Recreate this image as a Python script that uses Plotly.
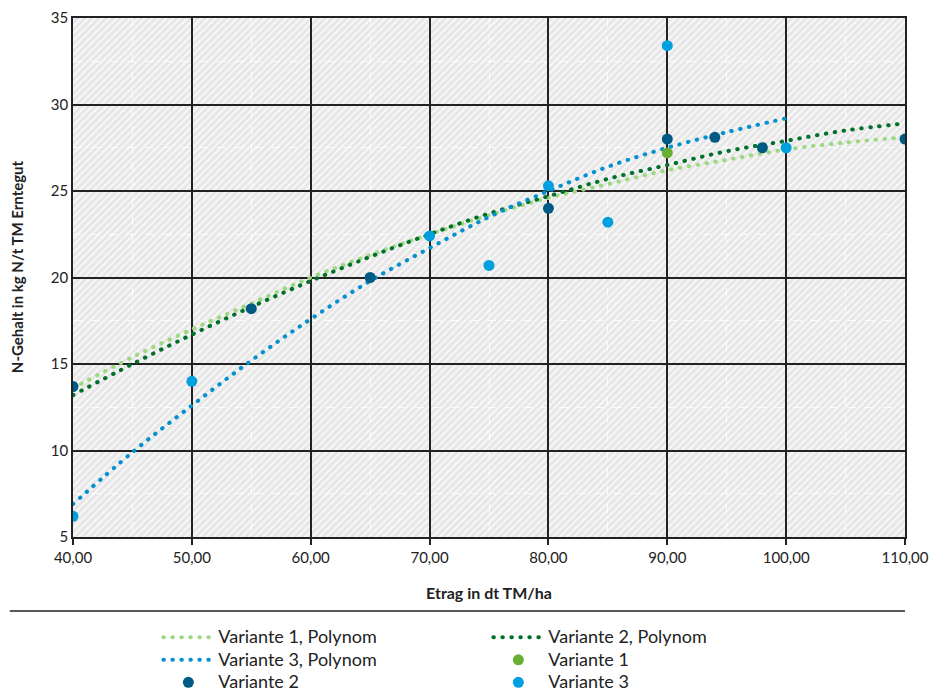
import base64
import plotly.graph_objects as go

# --- data
trend_x = [40, 45, 50, 55, 60, 65, 70, 75, 80, 85, 90, 95, 100, 105, 110]
trend_v1 = [13.6, 15.4, 17.0, 18.5, 20.0, 21.3, 22.5, 23.6, 24.6, 25.4, 26.2, 26.8, 27.4, 27.8, 28.1]
trend_v2 = [13.2, 15.0, 16.7, 18.3, 19.8, 21.2, 22.5, 23.7, 24.7, 25.7, 26.5, 27.3, 27.9, 28.5, 28.9]
trend_v3_x = [40, 45, 50, 55, 60, 65, 70, 75, 80, 85, 90, 95, 100]
trend_v3 = [6.9, 9.9, 12.6, 15.2, 17.6, 19.8, 21.7, 23.5, 25.0, 26.4, 27.5, 28.4, 29.2]

v1_x = [90]
v1_y = [27.2]
v2_x = [40, 55, 65, 80, 90, 94, 98, 110]
v2_y = [13.7, 18.2, 20.0, 24.0, 28.0, 28.1, 27.5, 28.0]
v3_x = [40, 50, 70, 75, 80, 85, 90, 100]
v3_y = [6.2, 14.0, 22.4, 20.7, 25.3, 23.2, 33.4, 27.5]

FONT = 'Lato, Carlito, Calibri, sans-serif'
DOTS = '0.5px,8.5px'  # with round caps -> dotted line of round dots

# --- hatched plot background as an svg image (sits below the grid)
hatch_svg = '''<svg xmlns="http://www.w3.org/2000/svg" width="832" height="519">
<defs><pattern id="h" width="5" height="5" patternUnits="userSpaceOnUse" patternTransform="rotate(45)">
<rect width="5" height="5" fill="#e6e6e6"/><rect width="2.2" height="5" fill="#f7f7f7"/></pattern></defs>
<rect width="832" height="519" fill="url(#h)"/></svg>'''
hatch_uri = 'data:image/svg+xml;base64,' + base64.b64encode(hatch_svg.encode()).decode()

fig = go.Figure()

fig.add_trace(go.Scatter(x=trend_x, y=trend_v1, mode='lines', name='Variante 1, Polynom',
                         line=dict(color='#9dd882', width=4, dash=DOTS, shape='spline')))
fig.add_trace(go.Scatter(x=trend_x, y=trend_v2, mode='lines', name='Variante 2, Polynom',
                         line=dict(color='#00702a', width=4, dash=DOTS, shape='spline')))
fig.add_trace(go.Scatter(x=trend_v3_x, y=trend_v3, mode='lines', name='Variante 3, Polynom',
                         line=dict(color='#0590cf', width=4, dash=DOTS, shape='spline')))
fig.add_trace(go.Scatter(x=v1_x, y=v1_y, mode='markers', name='Variante 1',
                         marker=dict(color='#68ae32', size=11)))
fig.add_trace(go.Scatter(x=v2_x, y=v2_y, mode='markers', name='Variante 2',
                         marker=dict(color='#005b84', size=11)))
fig.add_trace(go.Scatter(x=v3_x, y=v3_y, mode='markers', name='Variante 3',
                         marker=dict(color='#00a0de', size=11)))

fig.update_layout(
    width=932, height=690,
    margin=dict(l=73, r=27, t=18, b=153, autoexpand=False),
    paper_bgcolor='white',
    plot_bgcolor='#ececec',
    separators=',.',
    font=dict(family=FONT, size=15, color='#222'),
    showlegend=True,
    legend=dict(orientation='h', x=0.1026, y=-0.162, xanchor='left', yanchor='top',
                entrywidth=265, entrywidthmode='pixels', tracegroupgap=0,
                font=dict(family=FONT, size=15, color='#222'),
                itemwidth=50, bgcolor='rgba(0,0,0,0)'),
    images=[dict(source=hatch_uri, xref='paper', yref='paper', x=0, y=1,
                 sizex=1, sizey=1, sizing='stretch', xanchor='left', yanchor='top',
                 layer='below')],
    shapes=[dict(type='line', xref='paper', yref='paper', x0=-0.076, x1=1.0,
                 y0=-0.1425, y1=-0.1425, line=dict(color='#222', width=1.5))],
    annotations=[dict(text='<b>N-Gehalt in kg N/t TM Erntegut</b>', textangle=-90,
                      xref='paper', yref='paper', x=-0.0673, y=0.52,
                      xanchor='center', yanchor='middle', showarrow=False,
                      font=dict(family=FONT, size=15, color='#222'))],
)

fig.update_xaxes(
    range=[40, 110], dtick=10, tick0=40, tickformat='.2f',
    showgrid=True, gridcolor='#222', gridwidth=1.5,
    showline=True, linecolor='#222', linewidth=1.5, mirror=True,
    ticks='outside', ticklen=6, tickcolor='#222', tickwidth=1.5,
    zeroline=False,
    minor=dict(dtick=5, showgrid=True, gridcolor='rgba(255,255,255,0.8)', griddash='dash', gridwidth=1),
    title=dict(text='<b>Etrag in dt TM/ha</b>', font=dict(family=FONT, size=16, color='#222'), standoff=23),
    tickfont=dict(family=FONT, size=15, color='#222'),
)
fig.update_yaxes(
    range=[5, 35], dtick=5, tick0=5,
    showgrid=True, gridcolor='#222', gridwidth=1.5,
    showline=True, linecolor='#222', linewidth=1.5, mirror=True,
    ticks='', zeroline=False,
    minor=dict(dtick=2.5, showgrid=True, gridcolor='rgba(255,255,255,0.8)', griddash='dash', gridwidth=1),
    tickfont=dict(family=FONT, size=15, color='#222'),
)

# page body has a default 8px margin; drop it, give the dotted lines round caps,
# and render legend text a little larger than its 15px row spacing
post = """
document.body.style.margin='0';
var st = document.createElement('style');
st.textContent = '.js-line { stroke-linecap: round; } .legendtext { font-size: 18px !important; }';
document.head.appendChild(st);
"""
fig.write_html('out.html', post_script=post, config={'displayModeBar': False})
